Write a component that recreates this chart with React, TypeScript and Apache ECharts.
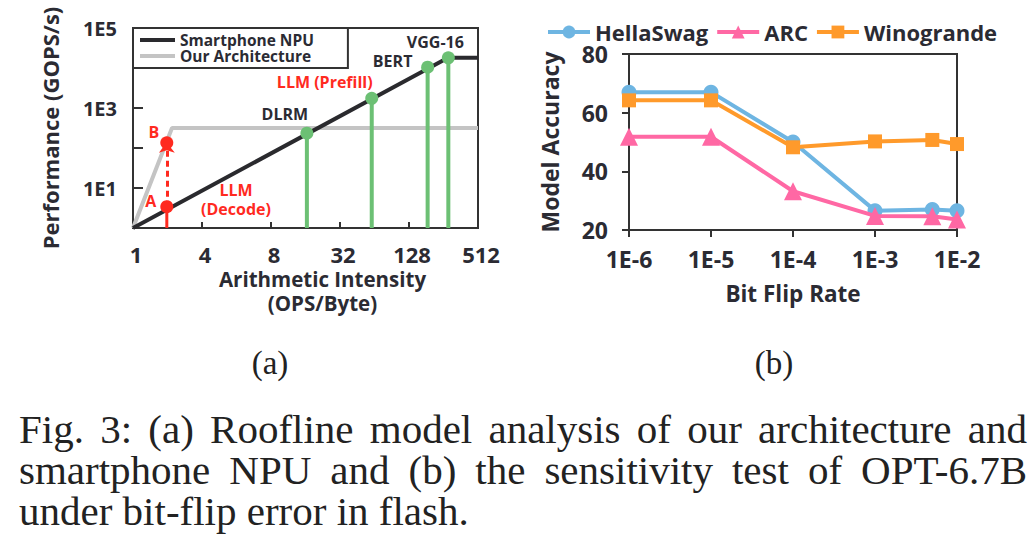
import React, { useEffect, useRef } from "react";
import * as echarts from "echarts";

// ---------- data ----------
const intensityTickLabels = ["1", "4", "8", "32", "128", "512"];
// roofline corner points: [x position on intensity axis, GOPS/s]
const npuRoofX = [0, 4.565, 5];
const npuRoofY = [1, 18000, 18000];
const archRoofX = [0, 0.565, 5];
const archRoofY = [1, 316, 316];
const workloadNames = ["DLRM", "LLM (Prefill)", "BERT", "VGG-16"];
const workloadX = [2.52, 3.46, 4.27, 4.57];
const workloadPerf = [235, 1750, 10500, 18000];
const decodeX = 0.49;
const decodePointA = 3.4;
const decodePointB = 135;

const flipRates = [1e-6, 1e-5, 1e-4, 1e-3, 5e-3, 1e-2];
const hellaSwag = [67, 67, 50, 26.6, 27, 26.6];
const arc = [51.8, 51.8, 33.2, 24.8, 24.7, 23.6];
const winogrande = [64.2, 64.2, 48.2, 50.2, 50.7, 49.3];

// ---------- styles ----------
const TXT = "#2b2b33";
const BLACK = "#2a2a2e";
const GRAY = "#c4c4c4";
const GREEN = "#6cc074";
const RED = "#ff2a1f";
const BLUE = "#6eb5e2";
const PINK = "#ff68a4";
const ORANGE = "#ff9a2b";
const FONT = '"Open Sans", "Noto Sans", sans-serif';

const workloadLabelOffsets = [
  [-22, -19],
  [-47, -16],
  [-35, -6],
  [-13, -16],
];
const workloadLabelColors = [TXT, RED, TXT, TXT];

export default function App() {
  const ref = useRef<HTMLDivElement>(null);

  useEffect(() => {
    if (!ref.current) return;
    const chart = echarts.init(ref.current, null, { renderer: "svg" });

    const axisLine = { show: true, lineStyle: { color: "#333", width: 2 } };
    const tickStyle = { color: "#333", width: 2 };
    const nameStyle = (size: number) => ({
      fontSize: size,
      fontWeight: "bold",
      color: TXT,
      fontFamily: FONT,
    });
    const labelStyle = (size: number) => ({
      fontSize: size,
      fontWeight: "bold",
      color: TXT,
      fontFamily: FONT,
    });

    const stems = workloadNames.map((n, i) => ({
      type: "line",
      xAxisIndex: 0,
      yAxisIndex: 0,
      data: [
        [workloadX[i], 1],
        [workloadX[i], workloadPerf[i]],
      ],
      symbol: "none",
      lineStyle: { color: GREEN, width: 4 },
      z: 4,
      silent: true,
    }));

    const option: any = {
      animation: false,
      textStyle: { fontFamily: FONT, fontWeight: "bold", color: TXT },
      grid: [
        {
          left: 133,
          top: 28,
          width: 345,
          height: 200,
          show: true,
          borderColor: "#333",
          borderWidth: 2,
          backgroundColor: "transparent",
        },
        {
          left: 629,
          top: 54,
          width: 328,
          height: 176,
          show: true,
          borderColor: "#333",
          borderWidth: 2,
          backgroundColor: "transparent",
        },
      ],
      legend: [
        {
          data: [
            { name: "Smartphone NPU", icon: "rect", itemStyle: { color: BLACK } },
            { name: "Our Architecture", icon: "rect", itemStyle: { color: GRAY } },
          ],
          orient: "vertical",
          left: 133,
          top: 28,
          padding: [4, 34, 4, 7],
          itemGap: 0,
          itemWidth: 35,
          itemHeight: 4,
          itemTextGap: 10,
          backgroundColor: "#fff",
          borderColor: "#333",
          borderWidth: 2,
          textStyle: { ...labelStyle(15.5), lineHeight: 15 },
          z: 10,
        },
        {
          data: ["HellaSwag", "ARC", "Winogrande"],
          orient: "horizontal",
          left: 546,
          top: 21,
          padding: 0,
          itemGap: 7,
          itemWidth: 42,
          itemHeight: 16,
          itemTextGap: 2,
          lineStyle: { width: 4 },
          textStyle: { ...labelStyle(22), lineHeight: 22 },
        },
      ],
      xAxis: [
        {
          gridIndex: 0,
          type: "value",
          min: 0,
          max: 5,
          interval: 1,
          axisLine,
          axisTick: { show: true, inside: true, length: 6, lineStyle: tickStyle },
          axisLabel: {
            ...labelStyle(22),
            margin: 15,
            padding: [0, 0, 0, 6],
            formatter: (v: number) => intensityTickLabels[Math.round(v)] ?? "",
          },
          splitLine: { show: false },
          name: "Arithmetic Intensity\n(OPS/Byte)",
          nameLocation: "middle",
          nameGap: 39,
          nameTextStyle: { ...nameStyle(20.5), lineHeight: 24, padding: [0, 0, 0, 34] },
        },
        {
          gridIndex: 1,
          type: "log",
          logBase: 10,
          min: 1e-6,
          max: 1e-2,
          axisLine,
          axisTick: { show: true, inside: false, length: 7, lineStyle: tickStyle },
          axisLabel: {
            ...labelStyle(23),
            margin: 17,
            formatter: (v: number) => "1E" + Math.round(Math.log10(v)),
          },
          splitLine: { show: false },
          minorTick: { show: false },
          name: "Bit Flip Rate",
          nameLocation: "middle",
          nameGap: 52,
          nameTextStyle: nameStyle(22.5),
        },
      ],
      yAxis: [
        {
          gridIndex: 0,
          type: "log",
          logBase: 10,
          min: 1,
          max: 100000,
          axisLine,
          axisTick: { show: true, inside: true, length: 10, lineStyle: tickStyle },
          axisLabel: {
            ...labelStyle(20),
            margin: 16,
            formatter: (v: number) => {
              const e = Math.round(Math.log10(v));
              return e % 2 === 1 ? "1E" + e : "";
            },
          },
          splitLine: { show: false },
          minorTick: { show: false },
          name: "Performance (GOPS/s)",
          nameLocation: "middle",
          nameRotate: 90,
          nameGap: 72,
          nameTextStyle: nameStyle(22),
        },
        {
          gridIndex: 1,
          type: "value",
          min: 20,
          max: 80,
          interval: 20,
          axisLine,
          axisTick: { show: true, inside: false, length: 7, lineStyle: tickStyle },
          axisLabel: { ...labelStyle(23), margin: 21 },
          splitLine: { show: false },
          name: "Model Accuracy",
          nameLocation: "middle",
          nameRotate: 90,
          nameGap: 68,
          nameTextStyle: nameStyle(23),
        },
      ],
      graphic: [
        {
          type: "text",
          x: 236,
          y: 190,
          style: {
            text: "LLM",
            align: "center",
            verticalAlign: "middle",
            fill: RED,
            font: `bold 16px ${FONT}`,
          },
          z: 20,
        },
        {
          type: "text",
          x: 236,
          y: 209,
          style: {
            text: "(Decode)",
            align: "center",
            verticalAlign: "middle",
            fill: RED,
            font: `bold 16px ${FONT}`,
          },
          z: 20,
        },
      ],
      series: [
        {
          name: "Our Architecture",
          type: "line",
          xAxisIndex: 0,
          yAxisIndex: 0,
          data: archRoofX.map((x, i) => [x, archRoofY[i]]),
          symbol: "none",
          lineStyle: { color: GRAY, width: 4 },
          itemStyle: { color: GRAY },
          z: 2,
        },
        {
          name: "Smartphone NPU",
          type: "line",
          xAxisIndex: 0,
          yAxisIndex: 0,
          data: npuRoofX.map((x, i) => [x, npuRoofY[i]]),
          symbol: "none",
          lineStyle: { color: BLACK, width: 4 },
          itemStyle: { color: BLACK },
          z: 3,
        },
        ...stems,
        {
          type: "scatter",
          xAxisIndex: 0,
          yAxisIndex: 0,
          symbol: "circle",
          symbolSize: 13,
          itemStyle: { color: GREEN, opacity: 1 },
          z: 6,
          data: workloadNames.map((n, i) => ({
            value: [workloadX[i], workloadPerf[i]],
            label: {
              show: true,
              formatter: n,
              position: "inside",
              offset: workloadLabelOffsets[i],
              color: workloadLabelColors[i],
              fontSize: 16,
              fontWeight: "bold",
              fontFamily: FONT,
            },
          })),
        },
        {
          type: "line",
          xAxisIndex: 0,
          yAxisIndex: 0,
          data: [
            [decodeX, 1],
            [decodeX, decodePointA],
          ],
          symbol: "none",
          lineStyle: { color: RED, width: 3 },
          z: 5,
        },
        {
          type: "scatter",
          xAxisIndex: 0,
          yAxisIndex: 0,
          symbol: "circle",
          symbolSize: 13,
          itemStyle: { color: RED, opacity: 1 },
          z: 7,
          data: [
            {
              value: [decodeX, decodePointA],
              label: {
                show: true,
                formatter: "A",
                position: "inside",
                offset: [-16, -6],
                color: RED,
                fontSize: 16,
                fontWeight: "bold",
                fontFamily: FONT,
              },
            },
            {
              value: [decodeX, decodePointB],
              label: {
                show: true,
                formatter: "B",
                position: "inside",
                offset: [-13, -11],
                color: RED,
                fontSize: 16,
                fontWeight: "bold",
                fontFamily: FONT,
              },
            },
          ],
          markLine: {
            silent: true,
            symbol: ["none", "arrow"],
            symbolSize: [12, 10],
            label: { show: false },
            lineStyle: { color: RED, width: 3, type: [6, 4] },
            data: [
              [
                { coord: [decodeX, decodePointA] },
                { coord: [decodeX, decodePointB] },
              ],
            ],
          },
        },
        // ---- right chart ----
        {
          name: "HellaSwag",
          type: "line",
          xAxisIndex: 1,
          yAxisIndex: 1,
          data: flipRates.map((x, i) => [x, hellaSwag[i]]),
          symbol: "circle",
          symbolSize: 15,
          lineStyle: { color: BLUE, width: 4 },
          itemStyle: { color: BLUE },
          z: 3,
        },
        {
          name: "ARC",
          type: "line",
          xAxisIndex: 1,
          yAxisIndex: 1,
          data: flipRates.map((x, i) => [x, arc[i]]),
          symbol: "triangle",
          symbolSize: 18,
          lineStyle: { color: PINK, width: 4 },
          itemStyle: { color: PINK },
          z: 4,
        },
        {
          name: "Winogrande",
          type: "line",
          xAxisIndex: 1,
          yAxisIndex: 1,
          data: flipRates.map((x, i) => [x, winogrande[i]]),
          symbol: "rect",
          symbolSize: 14,
          lineStyle: { color: ORANGE, width: 4 },
          itemStyle: { color: ORANGE },
          z: 5,
        },
      ],
    };

    chart.setOption(option);
    return () => chart.dispose();
  }, []);

  const serif = '"Liberation Serif", "Times New Roman", serif';
  const lineStyle: React.CSSProperties = {
    height: 41,
    lineHeight: "41px",
    whiteSpace: "nowrap",
  };
  const justified: React.CSSProperties = {
    ...lineStyle,
    textAlign: "justify",
    textAlignLast: "justify",
    whiteSpace: "normal",
  };

  return (
    <div style={{ position: "absolute", left: 0, top: 0, width: 1036, height: 556, background: "#fff" }}>
      <div ref={ref} style={{ position: "absolute", left: 0, top: 0, width: 1036, height: 556 }} />
      <div
        style={{
          position: "absolute",
          left: 0,
          top: 345,
          width: 1036,
          fontFamily: serif,
          fontSize: 33,
          color: "#222",
          pointerEvents: "none",
        }}
      >
        <span style={{ position: "absolute", left: 270, transform: "translateX(-50%)" }}>(a)</span>
        <span style={{ position: "absolute", left: 774, transform: "translateX(-50%)" }}>(b)</span>
      </div>
      <div
        style={{
          position: "absolute",
          left: 19,
          top: 409,
          width: 1008,
          fontFamily: serif,
          fontSize: 41,
          color: "#222",
          pointerEvents: "none",
        }}
      >
        <div style={justified}>Fig. 3: (a) Roofline model analysis of our architecture and</div>
        <div style={justified}>smartphone NPU and (b) the sensitivity test of OPT-6.7B</div>
        <div style={lineStyle}>under bit-flip error in flash.</div>
      </div>
    </div>
  );
}
